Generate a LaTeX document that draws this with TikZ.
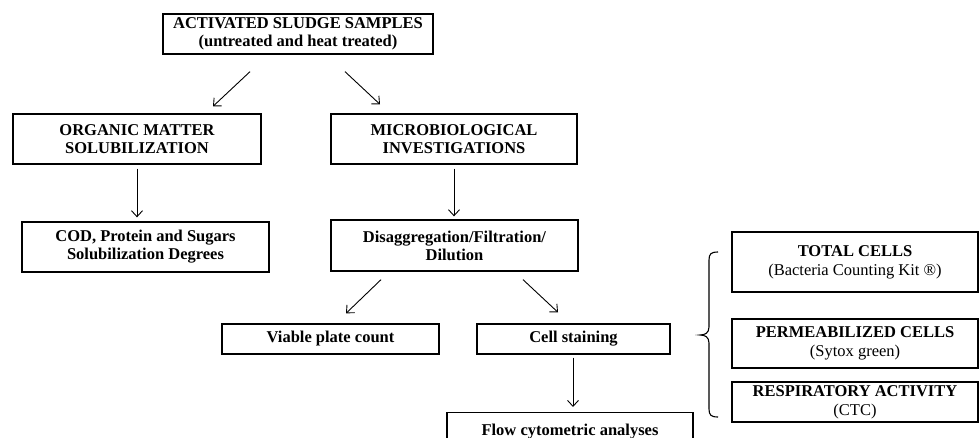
\documentclass[tikz,border=0pt]{standalone}
\usepackage{fontspec}
\setmainfont{Liberation Serif}
\usetikzlibrary{arrows.meta}
\begin{document}
\begin{tikzpicture}[x=1pt,y=-1pt,
  box/.style={draw=black,line width=1.3pt,align=center,inner sep=0pt,
    font=\fontsize{16.5}{18}\selectfont\bfseries},
  rbox/.style={box,font=\fontsize{16.5}{19}\selectfont\bfseries},
  arr/.style={line width=0.9pt,-{Straight Barb[length=6pt,width=11pt]}},
  brc/.style={line width=1.1pt}]
\clip (0,0) rectangle (979,438);
\fill[white] (0,0) rectangle (979,438);
\node[box,minimum width=270pt,minimum height=40pt] (top) at (298,34)
  {ACTIVATED SLUDGE SAMPLES\\(untreated and heat treated)};
\node[box,minimum width=248pt,minimum height=50pt] (org) at (137,139)
  {ORGANIC MATTER\\SOLUBILIZATION};
\node[box,minimum width=246pt,minimum height=50pt] (mic) at (454,139)
  {MICROBIOLOGICAL\\INVESTIGATIONS};
\node[box,minimum width=247pt,minimum height=50pt] (cod) at (145.5,247)
  {COD, Protein and Sugars\\Solubilization Degrees};
\node[box,minimum width=247pt,minimum height=51pt] (dis) at (454.5,245.5)
  {Disaggregation/Filtration/\\Dilution};
\node[box,minimum width=217pt,minimum height=30pt] (via) at (330.5,339)
  {Viable plate count};
\node[box,minimum width=193pt,minimum height=30pt] (cel) at (573.5,339)
  {Cell staining};
\node[box,minimum width=246pt,minimum height=50pt,anchor=north] (flo) at (570,412)
  {\raisebox{0pt}[0pt][0pt]{}\\[-40pt]Flow cytometric analyses};
\node[rbox,minimum width=246pt,minimum height=60pt] (tot) at (855,262)
  {TOTAL CELLS\\{\mdseries(Bacteria Counting Kit \textregistered)}};
\node[rbox,minimum width=246pt,minimum height=49pt] (per) at (855,343.5)
  {PERMEABILIZED CELLS\\{\mdseries(Sytox green)}};
\node[rbox,minimum width=246pt,minimum height=40pt] (res) at (855,402)
  {RESPIRATORY ACTIVITY\\{\mdseries(CTC)}};
\coordinate (bt) at (718,252);
\coordinate (bb) at (718,417);
\coordinate (btip) at (700,335);
\draw[brc] (bt) .. controls (711,252) and (709,254) .. (709,260) -- (709,327)
  .. controls (709,333) and (705,335) .. (btip)
  .. controls (705,335) and (709,337) .. (709,343) -- (709,409)
  .. controls (709,415) and (711,417) .. (bb);
\draw[arr] ([xshift=-48pt,yshift=-17pt]top.south) -- ([xshift=76pt,yshift=7pt]org.north);
\draw[arr] ([xshift=47pt,yshift=-17pt]top.south) -- ([xshift=-74pt,yshift=9pt]mic.north);
\draw[arr] ([yshift=-4pt]org.south) -- ([xshift=-8.5pt,yshift=4pt]cod.north);
\draw[arr] ([yshift=-4pt]mic.south) -- ([xshift=-0.5pt,yshift=3pt]dis.north);
\draw[arr] ([xshift=-73.5pt,yshift=-8pt]dis.south) -- ([xshift=15.5pt,yshift=10pt]via.north);
\draw[arr] ([xshift=68.5pt,yshift=-8pt]dis.south) -- ([xshift=-15.5pt,yshift=11pt]cel.north);
\draw[arr] ([xshift=-0.5pt,yshift=-3pt]cel.south) -- ([xshift=3pt,yshift=5pt]flo.north);
\end{tikzpicture}
\end{document}
